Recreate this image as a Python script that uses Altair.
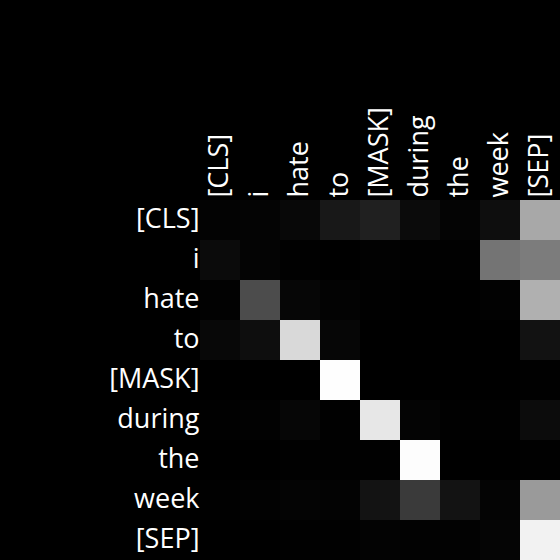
import altair as alt
import pandas as pd

tokens = ["[CLS]", "i", "hate", "to", "[MASK]", "during", "the", "week", "[SEP]"]
# attention weights (rows = query token, cols = key token), read as grey levels / 255
weights = [
    [3, 4, 8, 24, 32, 11, 4, 14, 168],
    [11, 4, 1, 0, 2, 1, 1, 116, 124],
    [2, 76, 6, 3, 1, 0, 0, 2, 176],
    [8, 14, 217, 6, 0, 0, 0, 0, 18],
    [0, 0, 0, 254, 0, 0, 0, 0, 1],
    [1, 2, 6, 1, 231, 4, 1, 1, 12],
    [0, 0, 1, 1, 1, 253, 0, 0, 1],
    [1, 2, 4, 3, 19, 58, 19, 4, 154],
    [0, 0, 1, 1, 3, 2, 2, 5, 242],
]

rows = []
for i, q in enumerate(tokens):
    for j, k in enumerate(tokens):
        rows.append({"row": q, "col": k, "w": weights[i][j] / 255.0})
df = pd.DataFrame(rows)

chart = (
    alt.Chart(df)
    .mark_rect(strokeWidth=0)
    .encode(
        x=alt.X(
            "col:N",
            sort=tokens,
            scale=alt.Scale(paddingInner=0, paddingOuter=0),
            axis=alt.Axis(
                orient="top", title=None, ticks=False, domain=False,
                labelAngle=270, labelAlign="left", labelBaseline="middle",
                labelPadding=3, labelFont="Open Sans", labelFontSize=27,
                labelColor="white", labelLimit=0,
            ),
        ),
        y=alt.Y(
            "row:N",
            sort=tokens,
            scale=alt.Scale(paddingInner=0, paddingOuter=0),
            axis=alt.Axis(
                title=None, ticks=False, domain=False,
                labelPadding=1, labelFont="Open Sans", labelFontSize=27,
                labelColor="white", labelLimit=0,
            ),
        ),
        color=alt.Color(
            "w:Q",
            scale=alt.Scale(domain=[0, 1], range=["#000000", "#ffffff"], interpolate="rgb"),
            legend=None,
        ),
    )
    .properties(
        width=360,
        height=360,
        background="black",
        padding={"left": 200, "top": 200, "right": 0, "bottom": 0},
        autosize=alt.AutoSizeParams(type="none"),
    )
    .configure_view(stroke=None)
)

chart.save("out.html", embed_options={"renderer": "svg", "actions": False})
